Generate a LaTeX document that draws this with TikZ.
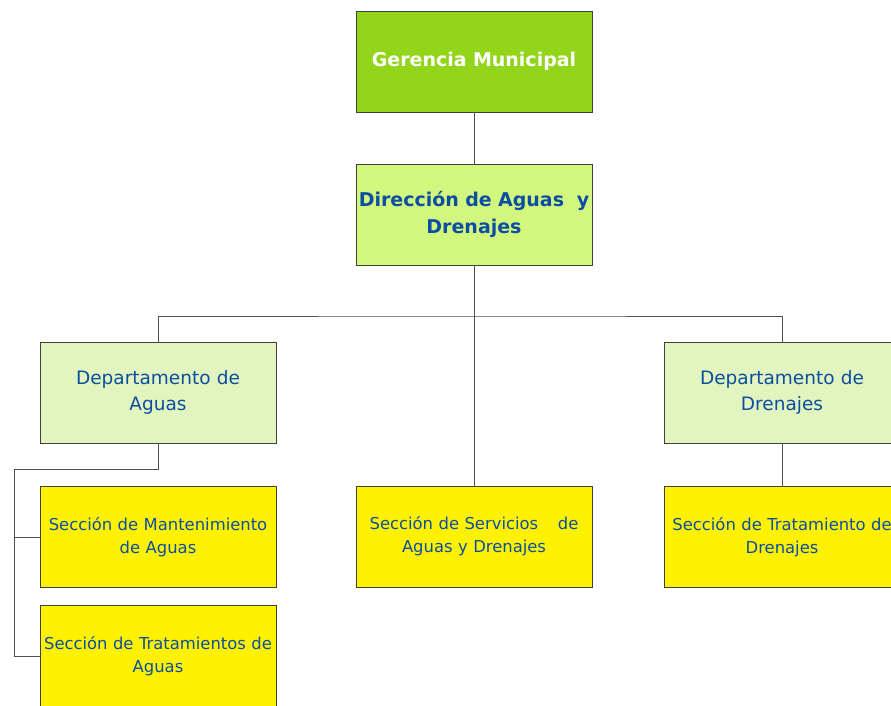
\documentclass[tikz,border=0pt]{standalone}
\usepackage{fontspec}
\setmainfont{DejaVu Sans}
\definecolor{gerfill}{HTML}{92D51A}
\definecolor{dirfill}{HTML}{D3F77E}
\definecolor{depfill}{HTML}{E2F5BE}
\definecolor{secfill}{HTML}{FFF200}
\definecolor{txtblue}{HTML}{0B4EA2}
\definecolor{edgegray}{HTML}{404040}
\definecolor{linegray}{HTML}{505050}
\begin{document}
\begin{tikzpicture}[x=1pt,y=-1pt,
  box/.style={draw=edgegray,line width=0.9pt,minimum width=236pt,minimum height=101pt,inner sep=0pt,align=center,text width=234pt},
  gerbox/.style={box,fill=gerfill,text=white,font=\bfseries\fontsize{19}{22}\selectfont},
  dirbox/.style={box,fill=dirfill,text=txtblue,font=\bfseries\fontsize{19}{27}\selectfont},
  depbox/.style={box,fill=depfill,text=txtblue,font=\fontsize{18.5}{26}\selectfont},
  secbox/.style={box,fill=secfill,text=txtblue,font=\fontsize{16.4}{23}\selectfont},
  conn/.style={draw=linegray,line width=1pt}]
\useasboundingbox (0,0) rectangle (891,705);
\clip (0,0) rectangle (891,705);
\node[gerbox] (ger) at (474,61.5) {Gerencia Municipal};
\node[dirbox] (dir) at (474,214.5) {Dirección de Aguas\ \ y\\Drenajes};
\node[depbox] (depA) at (158,392.5) {Departamento de\\Aguas};
\node[depbox] (depD) at (782,392.5) {Departamento de\\Drenajes};
\node[secbox] (secM) at (158,537) {Sección de Mantenimiento\\de Aguas};
\node[secbox] (secT) at (158,656) {Sección de Tratamientos de\\Aguas};
\node[secbox] (secS) at (474,536.5) {Sección de Servicios\hspace{1.2em}de\\Aguas y Drenajes};
\node[secbox] (secD) at (782,537) {Sección de Tratamiento de\\Drenajes};
\coordinate (bus) at (474,316);
\coordinate (lb) at (14,469);
\draw[conn] (ger.south) -- (dir.north);
\draw[conn] (dir.south) -- (secS.north);
\draw[conn] (depA.north) |- (bus) -| (depD.north);
\draw[conn] (depD.south) -- (secD.north);
\draw[conn] (depA.south) |- (lb) |- (secT.west);
\draw[conn] (lb) |- (secM.west);
\end{tikzpicture}
\end{document}
